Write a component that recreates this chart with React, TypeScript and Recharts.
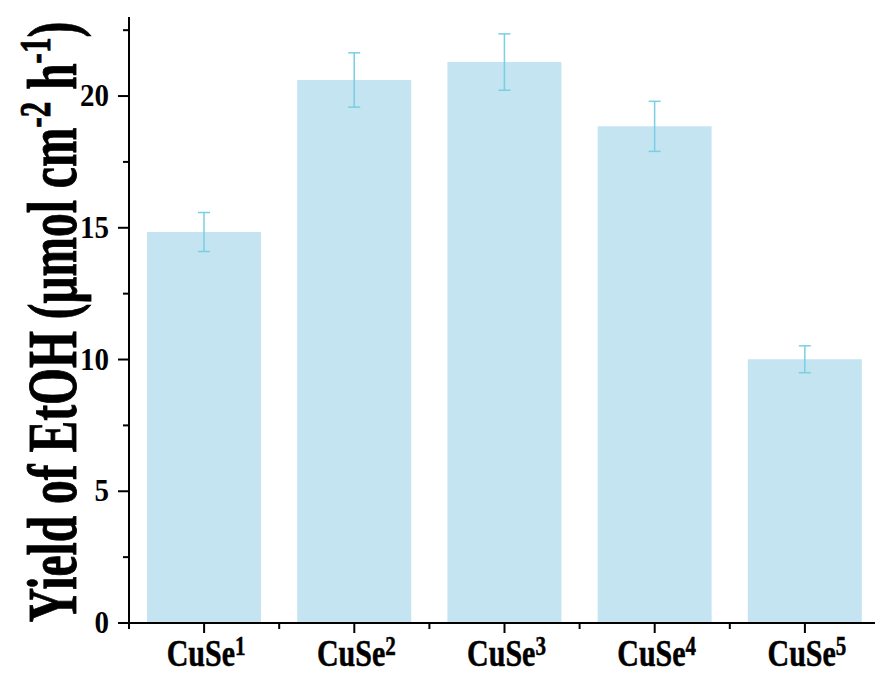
import { BarChart, Bar, XAxis, YAxis, ErrorBar } from 'recharts';

// Ethanol yield per catalyst sample, with standard deviation
const categories = ['CuSe1', 'CuSe2', 'CuSe3', 'CuSe4', 'CuSe5'];
const yieldValues = [14.84, 20.61, 21.29, 18.85, 10.01];
const yieldErrors = [0.74, 1.03, 1.07, 0.95, 0.51];
const yTicks = [0, 2.5, 5, 7.5, 10, 12.5, 15, 17.5, 20, 22.5];

const data = categories.map((name, i) => ({ name, value: yieldValues[i], err: yieldErrors[i] }));

const W = 900;
const H = 675;
const MARGIN = { top: 17, right: 20, bottom: 0, left: 0 };
const Y_AXIS_W = 129;
const X_AXIS_H = 52;
const BAND = (W - MARGIN.left - MARGIN.right - Y_AXIS_W) / categories.length;

const FONT = '"Liberation Serif", "Times New Roman", serif';
const BAR_FILL = '#c3e4f0';
const ERR_STROKE = '#79cfe3';

function YTick(props: any) {
  const { x, y, payload } = props;
  const major = payload.value % 5 === 0;
  return (
    <g>
      <line x1={x - (major ? 11 : 6)} x2={x} y1={y} y2={y} stroke="#000" strokeWidth={2} />
      {major && (
        <text
          transform={`translate(${x - 20}, ${y + 10}) scale(1, 1.1)`}
          textAnchor="end"
          fontFamily={FONT}
          fontWeight="bold"
          fontSize={29}
          fill="#000"
        >
          {payload.value}
        </text>
      )}
    </g>
  );
}

function XTick(props: any) {
  const { x, y, payload, index } = props;
  const name = String(payload.value);
  const base = name.slice(0, -1);
  const sup = name.slice(-1);
  const half = BAND / 2;
  return (
    <g>
      <line x1={x} x2={x} y1={y} y2={y + 10} stroke="#000" strokeWidth={2} />
      <line x1={x - half} x2={x - half} y1={y} y2={y + 6} stroke="#000" strokeWidth={2} />
      {index === categories.length - 1 && (
        <line x1={x + half} x2={x + half} y1={y} y2={y + 6} stroke="#000" strokeWidth={2} />
      )}
      <text
        transform={`translate(${x + 2}, ${y + 43}) scale(1, 1.25)`}
        textAnchor="middle"
        fontFamily={FONT}
        fontWeight="bold"
        fontSize={30}
        fill="#000"
        stroke="#000"
        strokeWidth={0.4}
      >
        <tspan>{base}</tspan>
        <tspan dy={-9} fontSize={21}>{sup}</tspan>
      </text>
    </g>
  );
}

function YLabel(props: any) {
  const vb = props.viewBox || { x: 0, y: MARGIN.top, width: Y_AXIS_W, height: H - MARGIN.top - X_AXIS_H };
  const cx = vb.x + 76;
  const cy = vb.y + vb.height / 2 + 2;
  return (
    <text
      transform={`translate(${cx}, ${cy}) rotate(-90) scale(1, 1.45)`}
      textAnchor="middle"
      fontFamily={FONT}
      fontWeight="bold"
      fontSize={47.5}
      fill="#000"
      stroke="#000"
      strokeWidth={0.6}
    >
      <tspan>Yield of EtOH (μmol cm</tspan>
      <tspan dy={-18} fontSize={31}>-2</tspan>
      <tspan dy={18}> h</tspan>
      <tspan dy={-18} fontSize={31}>-1</tspan>
      <tspan dy={18}>)</tspan>
    </text>
  );
}

export default function App() {
  return (
    <div style={{ position: 'fixed', left: 0, top: 0, width: 875, height: 675, overflow: 'hidden', background: '#fff' }}>
      <BarChart width={W} height={H} data={data} margin={MARGIN} barCategoryGap="12%">
        <XAxis
          dataKey="name"
          height={X_AXIS_H}
          interval={0}
          tickSize={0}
          tickMargin={0}
          tickLine={false}
          axisLine={{ stroke: '#000', strokeWidth: 2 }}
          tick={<XTick />}
        />
        <XAxis
          xAxisId="top"
          dataKey="name"
          orientation="top"
          height={0}
          tick={false}
          tickLine={false}
          axisLine={{ stroke: '#000', strokeWidth: 2 }}
        />
        <YAxis
          width={Y_AXIS_W}
          domain={[0, 23]}
          ticks={yTicks}
          interval={0}
          tickSize={0}
          tickMargin={0}
          tickLine={false}
          axisLine={{ stroke: '#000', strokeWidth: 2 }}
          tick={<YTick />}
          label={{ content: (p: any) => <YLabel {...p} /> }}
        />
        <Bar dataKey="value" fill={BAR_FILL} isAnimationActive={false}>
          <ErrorBar dataKey="err" width={6} stroke={ERR_STROKE} strokeWidth={1.5} isAnimationActive={false} />
        </Bar>
      </BarChart>
    </div>
  );
}
